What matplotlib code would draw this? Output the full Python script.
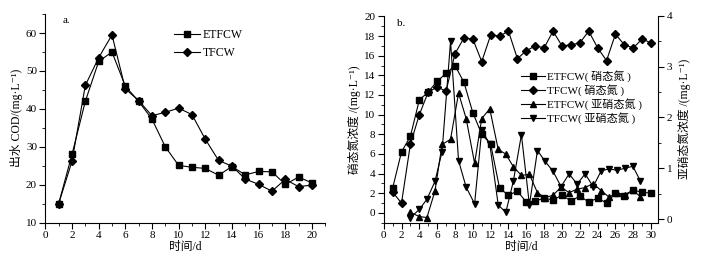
import matplotlib
matplotlib.use("Agg")
import matplotlib.pyplot as plt
from matplotlib.ticker import MultipleLocator

plt.rcParams["font.family"] = ["Liberation Serif", "Noto Sans CJK SC", "DejaVu Serif"]
plt.rcParams["font.size"] = 8

# panel a: effluent COD
days_a = [1, 2, 3, 4, 5, 6, 7, 8, 9, 10, 11, 12, 13, 14, 15, 16, 17, 18, 19, 20]
cod_etfcw = [15, 28, 42, 52.5, 55, 46, 42, 37.3, 30, 25.1, 24.6, 24.3, 22.5, 24.8,
             22.6, 23.5, 23.4, 20.1, 22, 20.5]
cod_tfcw = [15, 26.2, 46.2, 53.5, 59.5, 45.3, 42.2, 38.2, 39.1, 40.2, 38.5, 32, 26.4,
            24.9, 21.5, 20.1, 18.3, 21.4, 19.5, 19.9]

# panel b: nitrate (left axis)
days_b = list(range(1, 31))
no3_etfcw = [2.5, 6.2, 7.8, 11.5, 12.3, 13.4, 14.2, 15.0, 13.3, 10.2, 8.0, 7.0, 2.5, 1.8,
             2.2, 1.1, 1.2, 1.5, 1.3, 1.8, 1.2, 1.7, 1.1, 1.5, 1.0, 2.0, 1.7, 2.3, 2.1, 2.0]
no3_tfcw = [2.1, 1.0, 7.0, 10.0, 12.3, 12.8, 12.4, 16.2, 17.8, 17.7, 15.4, 18.1, 18.0, 18.5,
            15.7, 16.5, 17.0, 16.8, 18.5, 17.0, 17.1, 17.3, 18.5, 16.8, 15.5, 18.2, 17.1,
            16.8, 17.7, 17.3]

# panel b: nitrite (right axis)
days_n = [3.0, 4.0, 4.85, 5.75, 6.55, 7.5, 8.4, 9.25, 10.2, 11.0, 11.9, 12.85, 13.7, 14.55,
          15.45, 16.35, 17.25, 18.1, 19.0, 19.9, 20.8, 21.7, 22.6, 23.5, 24.4, 25.3, 26.15,
          27.05, 27.95, 28.8]
no2_etfcw = [0.13, 0.05, 0.03, 0.55, 1.47, 1.57, 2.48, 1.98, 1.10, 1.98, 2.17, 1.37, 1.28,
             1.03, 0.86, 0.88, 0.52, 0.42, 0.47, 0.63, 0.52, 0.59, 0.62, 0.70, 0.56, 0.43,
             0.52, 0.48, 0.57, 0.44]
no2_tfcw = [0.03, 0.19, 0.39, 0.74, 1.33, 3.50, 1.15, 0.63, 0.30, 1.75, 1.48, 0.28, 0.13,
            0.75, 1.66, 0.28, 1.35, 1.14, 0.94, 0.64, 0.89, 0.69, 0.89, 0.64, 0.95, 0.99,
            0.96, 1.00, 1.04, 0.75]

line_kw = dict(color="black", linewidth=0.8, markersize=4)
diam_kw = dict(color="black", linewidth=0.8, markersize=4)

fig = plt.figure(figsize=(7.04, 2.61), dpi=100)
ax1 = fig.add_axes([0.0644, 0.147, 0.3976, 0.799])
ax2 = fig.add_axes([0.545, 0.147, 0.39, 0.792])
ax3 = ax2.twinx()


def style_axis(ax, sides):
    for s in ["top", "right", "left", "bottom"]:
        ax.spines[s].set_visible(s in sides)
        ax.spines[s].set_linewidth(0.8)
    ax.tick_params(which="major", direction="out", length=4, width=0.8, pad=2)
    ax.tick_params(which="minor", direction="out", length=2, width=0.6)


# panel a
ax1.plot(days_a, cod_etfcw, marker="s", label="ETFCW", **line_kw)
ax1.plot(days_a, cod_tfcw, marker="D", label="TFCW", **diam_kw)
ax1.set_xlim(0, 21)
ax1.set_ylim(10, 65)
ax1.xaxis.set_major_locator(MultipleLocator(2))
ax1.xaxis.set_minor_locator(MultipleLocator(1))
ax1.set_yticks([10, 20, 30, 40, 50, 60])
ax1.yaxis.set_minor_locator(MultipleLocator(5))
style_axis(ax1, ["left", "bottom"])
ax1.set_xlabel("时间/d", labelpad=1, fontsize=8.5)
ax1.set_ylabel("出水 COD/(mg·L⁻¹)", labelpad=2, fontsize=8.5)
ax1.text(0.06, 0.99, "a.", transform=ax1.transAxes, va="top")
ax1.legend(loc="upper left", bbox_to_anchor=(0.44, 0.955), frameon=False,
           handlelength=2.2, handletextpad=0.2, borderpad=0, labelspacing=0.45,
           fontsize=8.5)

# panel b
ax2.plot(days_b, no3_etfcw, marker="s", label="ETFCW( 硝态氮 )", **line_kw)
ax2.plot(days_b, no3_tfcw, marker="D", label="TFCW( 硝态氮 )", **diam_kw)
ax3.plot(days_n, no2_etfcw, marker="^", label="ETFCW( 亚硝态氮 )", **line_kw)
ax3.plot(days_n, no2_tfcw, marker="v", label="TFCW( 亚硝态氮 )", **line_kw)
ax2.set_xlim(0, 30.8)
ax2.set_ylim(-1, 20.05)
ax3.set_ylim(-0.07, 4.0)
ax2.xaxis.set_major_locator(MultipleLocator(2))
ax2.xaxis.set_minor_locator(MultipleLocator(1))
ax2.set_yticks(list(range(0, 21, 2)))
ax2.yaxis.set_minor_locator(MultipleLocator(1))
ax3.set_yticks([0, 1, 2, 3, 4])
ax3.yaxis.set_minor_locator(MultipleLocator(0.5))
style_axis(ax2, ["left", "bottom"])
style_axis(ax3, ["right"])
ax2.set_xlabel("时间/d", labelpad=1, fontsize=8.5)
ax2.set_ylabel("硝态氮浓度 /(mg·L⁻¹)", labelpad=2, fontsize=8.5)
ax3.set_ylabel("亚硝态氮浓度 /(mg·L⁻¹)", labelpad=4, fontsize=8.5)
ax2.text(0.05, 0.985, "b.", transform=ax2.transAxes, va="top")

h2, l2 = ax2.get_legend_handles_labels()
h3, l3 = ax3.get_legend_handles_labels()
ax3.legend(h2 + h3, l2 + l3, loc="upper left", bbox_to_anchor=(0.48, 0.765),
           frameon=False, handlelength=2.2, handletextpad=0.1, borderpad=0,
           labelspacing=0.2)

fig.savefig("out.png", dpi=100)
